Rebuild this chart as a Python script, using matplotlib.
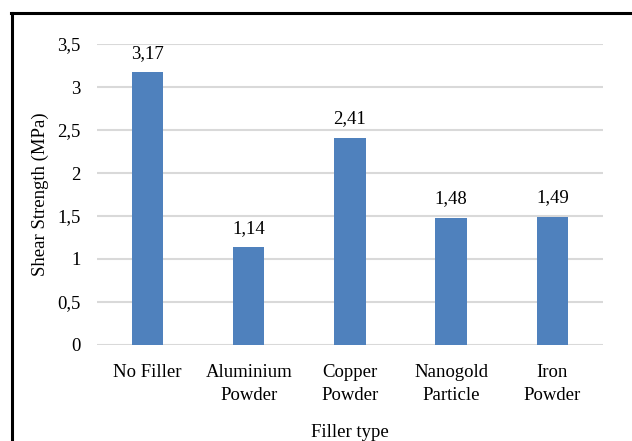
import matplotlib.pyplot as plt
from matplotlib.lines import Line2D

# Data
categories = ["No Filler", "Aluminium\nPowder", "Copper\nPowder", "Nanogold\nParticle", "Iron\nPowder"]
shear_strength = [3.17, 1.14, 2.41, 1.48, 1.49]
y_ticks = [0, 0.5, 1, 1.5, 2, 2.5, 3, 3.5]

plt.rcParams['font.family'] = ['Liberation Serif', 'DejaVu Serif']
fs = 13.5

fig = plt.figure(figsize=(6.32, 4.41), dpi=100)
ax = fig.add_axes([0.1535, 0.2177, 0.8005, 0.6825])

x = range(len(categories))
bars = ax.bar(x, shear_strength, width=0.31, color='#4F81BD', zorder=3)
for b, v in zip(bars, shear_strength):
    ax.text(b.get_x() + b.get_width() / 2, v + 0.12, f"{v:.2f}".replace('.', ','),
            ha='center', va='bottom', fontsize=fs)

ax.set_ylim(0, 3.5)
ax.set_xlim(-0.5, len(categories) - 0.5)
ax.set_yticks(y_ticks)
ax.set_yticklabels([f"{t:g}".replace('.', ',') for t in y_ticks], fontsize=fs)
ax.set_xticks(list(x))
ax.set_xticklabels(categories, fontsize=fs, linespacing=1.45)
ax.tick_params(axis='x', length=0, pad=14)
ax.tick_params(axis='y', length=0, pad=12)
ax.yaxis.grid(True, color='#d9d9d9', linewidth=1.5, zorder=0)
for s in ax.spines.values():
    s.set_visible(False)

ax.set_ylabel("Shear Strength (MPa)", fontsize=fs, labelpad=6)
ax.set_xlabel("Filler type", fontsize=fs, labelpad=14)

# Frame lines (top and left)
W, H = 632, 441
fig.add_artist(Line2D([11 / W, 1], [1 - 12.5 / H, 1 - 12.5 / H], color='black', linewidth=2.2, transform=fig.transFigure))
fig.add_artist(Line2D([12 / W, 12 / W], [0, 1 - 12.5 / H], color='black', linewidth=2.2, transform=fig.transFigure))

fig.savefig('out.png', dpi=100)
